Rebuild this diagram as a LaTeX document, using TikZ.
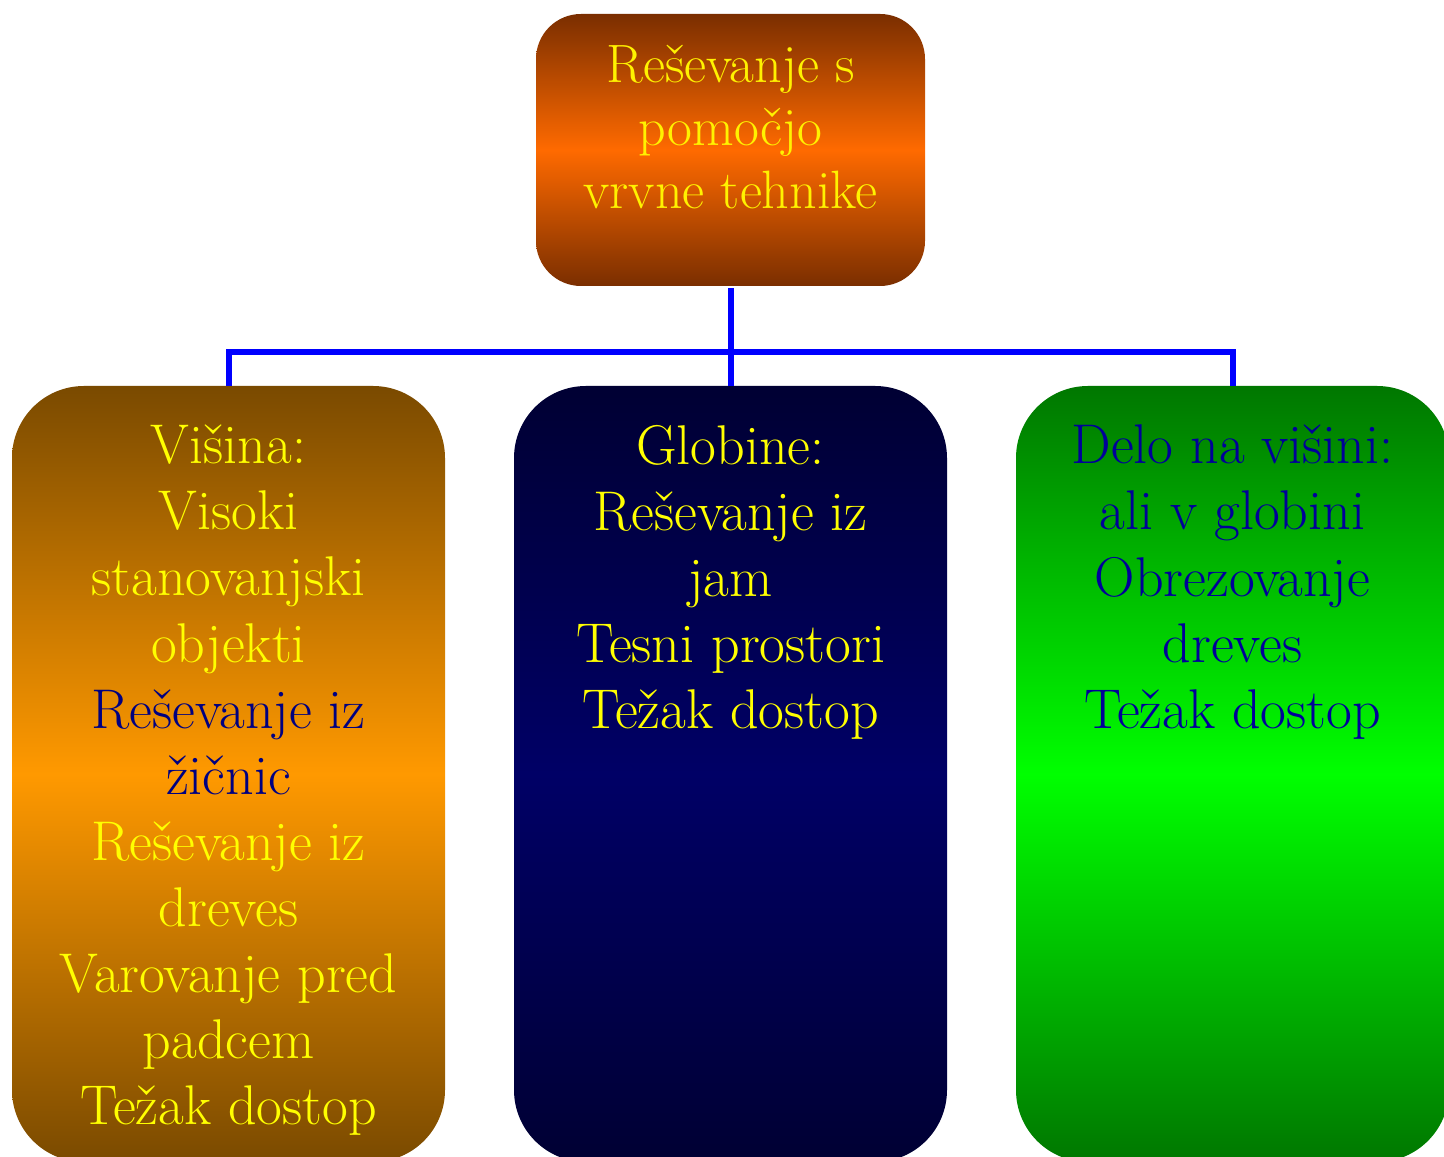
\documentclass[tikz,border=0pt]{standalone}
\usepackage{fontspec}
\setmainfont{Latin Modern Roman}
\begin{document}
\begin{tikzpicture}[x=1pt,y=1pt,
  box/.style={draw=none, rounded corners=72pt, minimum width=433pt, minimum height=776pt, inner sep=0pt},
  conn/.style={draw=blue, line width=6pt},
  txt/.style={align=center, inner sep=0pt, anchor=north, font=\fontsize{56}{66.1}\selectfont},
  ttxt/.style={align=center, inner sep=0pt, anchor=north, font=\fontsize{54}{63}\selectfont, text=yellow}
]
\definecolor{brtop}{HTML}{7A2E00}
\definecolor{brmid}{HTML}{FF6A00}
\definecolor{ltop}{HTML}{7A4A00}
\definecolor{lmid}{HTML}{FF9900}
\definecolor{mtop}{HTML}{000033}
\definecolor{mmid}{HTML}{000066}
\definecolor{rtop}{HTML}{007700}
\definecolor{rmid}{HTML}{00FF00}
\definecolor{yel}{HTML}{FFFF00}
\definecolor{navy}{HTML}{000080}
\definecolor{rtext}{HTML}{000099}
\clip (0,0) rectangle (1444,1157);
\fill[white] (0,0) rectangle (1444,1157);

\node[draw=none, rounded corners=45pt, minimum width=389pt, minimum height=272pt, inner sep=0pt,
  top color=brtop, bottom color=brtop, middle color=brmid] (top) at (730.5,1007) {};
\node[ttxt] (toptext) at ([yshift=-31pt]top.north) {Reševanje s\\pomočjo\\vrvne tehnike};

\node[box, top color=ltop, bottom color=ltop, middle color=lmid] (left) at (228.5,383) {};
\node[box, top color=mtop, bottom color=mtop, middle color=mmid] (mid) at (730.5,383) {};
\node[box, top color=rtop, bottom color=rtop, middle color=rmid] (right) at (1232.5,383) {};

\node[txt] (lefttext) at ([yshift=-39pt]left.north) {\color{yel}Višina:\\\color{yel}Visoki\\\color{yel}stanovanjski\\\color{yel}objekti\\\color{navy}Reševanje iz\\\color{navy}žičnic\\\color{yel}Reševanje iz\\\color{yel}dreves\\\color{yel}Varovanje pred\\\color{yel}padcem\\\color{yel}Težak dostop};
\node[txt, text=yel] (midtext) at ([yshift=-39pt]mid.north) {Globine:\\Reševanje iz\\jam\\Tesni prostori\\Težak dostop};
\node[txt, text=rtext] (righttext) at ([yshift=-39pt]right.north) {Delo na višini:\\ali v globini\\Obrezovanje\\dreves\\Težak dostop};

\coordinate (bus) at (730.5,805);
\draw[conn] ([yshift=-2pt]top.south) -- (bus);
\draw[conn] (left.north) |- (bus) -| (right.north);
\draw[conn] (bus) -- (mid.north);
\end{tikzpicture}
\end{document}
